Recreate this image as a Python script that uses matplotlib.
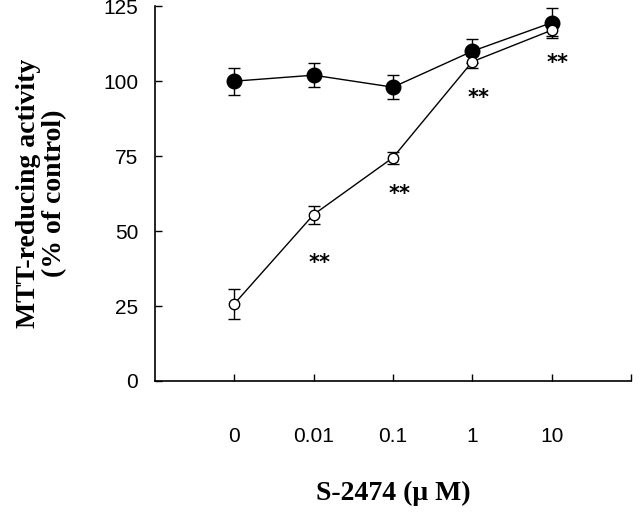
import numpy as np
import matplotlib
matplotlib.use("Agg")
from matplotlib import pyplot as plt

########## data ##########
doses = ['0', '0.01', '0.1', '1', '10']
filled = [100, 102, 98, 110, 119.5]
filled_err = [4.5, 4, 4, 4, 5]
open_ = [25.7, 55.5, 74.5, 106.5, 117]
open_err = [5, 3, 2, 2, 2]
stars = ['', '**', '**', '**', '**']
star_gap = [0, 13, 10, 10, 9]

x = np.arange(len(doses))

fig = plt.figure(figsize=(6.4, 5.19), dpi=100)
ax = fig.add_axes([0.242, 0.266, 0.744, 0.722])

ax.errorbar(x, filled, yerr=filled_err, fmt='-o', color='black', mfc='black',
            mec='black', ms=10.5, lw=1, elinewidth=1, capsize=4, capthick=1, zorder=3)
ax.errorbar(x, open_, yerr=open_err, fmt='-o', color='black', mfc='white',
            mec='black', ms=7.5, lw=1, elinewidth=1, capsize=4, capthick=1, mew=1, zorder=4)

for i in range(len(x)):
    if stars[i]:
        ax.text(x[i] + 0.08, open_[i] - open_err[i] - star_gap[i], stars[i],
                ha='center', va='center', fontsize=15, fontweight='bold',
                family='DejaVu Sans')

ax.set_xlim(-1, 5)
ax.set_ylim(0, 125)
ax.set_xticks(list(x) + [5])
ax.set_xticklabels(doses + [''])
ax.set_yticks([0, 25, 50, 75, 100, 125])

for s in ['top', 'right']:
    ax.spines[s].set_visible(False)
ax.spines['left'].set_linewidth(1.2)
ax.spines['bottom'].set_linewidth(1.2)
ax.tick_params(axis='both', direction='in', length=5, width=1, labelsize=15)
ax.tick_params(axis='x', pad=33)
ax.tick_params(axis='y', pad=12)
for lab in ax.get_xticklabels() + ax.get_yticklabels():
    lab.set_family('Liberation Sans')

ax.set_ylabel('MTT-reducing activity\n(% of control)', family='Liberation Serif',
              fontweight='bold', fontsize=20, labelpad=26, linespacing=1.05)
ax.set_xlabel('S-2474 (\u03bc M)', family='Liberation Serif', fontweight='bold',
              fontsize=20, labelpad=25)

fig.savefig('out.png', dpi=100)
